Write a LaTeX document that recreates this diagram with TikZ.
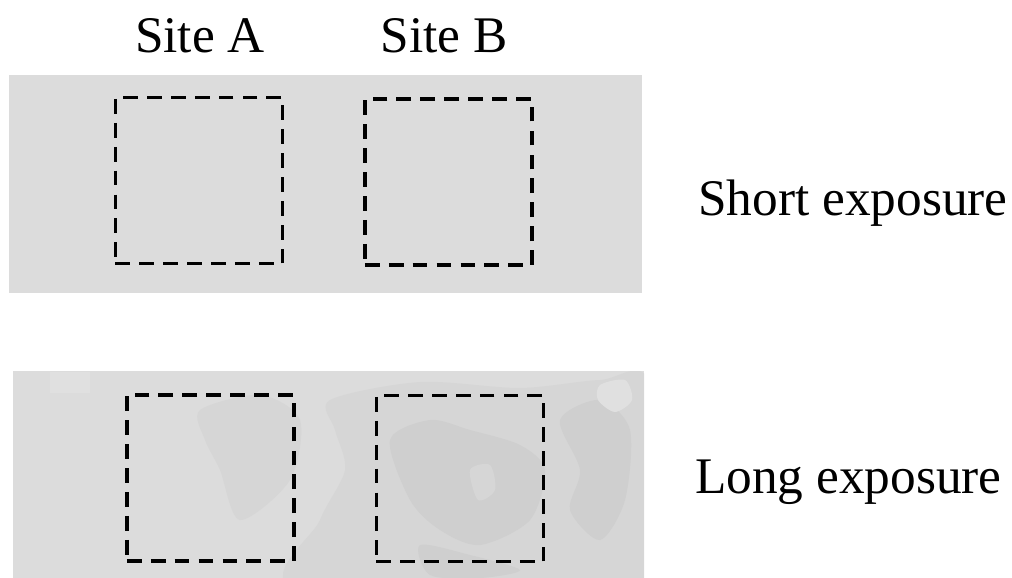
\documentclass[tikz,border=0pt]{standalone}
\usepackage{fontspec}
\setmainfont{Liberation Serif}
\definecolor{panelgray}{RGB}{220,220,220}
\definecolor{stainlight}{RGB}{214,214,214}
\definecolor{staindark}{RGB}{207,207,207}
\definecolor{stainpale}{RGB}{224,224,224}

\begin{document}
\begin{tikzpicture}[x=0.025cm, y=-0.025cm,
    site/.style={draw=black, line width=2.6pt, dash pattern=on 10.5pt off 6.5pt, rectangle, inner sep=0pt,
        minimum width=4.18cm, minimum height=4.15cm},
    caption/.style={font=\fontsize{36.5}{40}\selectfont, inner sep=0pt}]
\useasboundingbox (0,0) rectangle (1012,578);

% short exposure panel
\fill[panelgray] (9,75) rectangle (642,293);
% long exposure panel, with its stains
\fill[panelgray] (13,371) rectangle (644,578);
\begin{scope}
\clip (13,371) rectangle (644,578);
\fill[stainpale] (50,372) rectangle (90,393);
\fill[stainlight] plot[smooth cycle] coordinates {(200,410) (260,395) (300,420) (290,480) (240,520) (220,470) (205,440)};
\fill[stainlight] plot[smooth cycle] coordinates {(330,400) (420,382) (520,388) (600,380) (650,385) (650,590) (300,590) (320,520) (345,470) (335,430)};
\fill[staindark] plot[smooth cycle] coordinates {(390,440) (430,420) (470,430) (520,445) (545,470) (530,520) (480,545) (440,530) (410,500)};
\fill[staindark] plot[smooth cycle] coordinates {(560,420) (600,400) (630,430) (625,500) (600,540) (570,510) (580,470)};
\fill[staindark] plot[smooth cycle] coordinates {(420,545) (470,555) (520,570) (480,578) (430,575)};
\fill[stainpale] plot[smooth cycle] coordinates {(600,385) (625,380) (632,400) (615,412) (598,400)};
\fill[stainlight] plot[smooth cycle] coordinates {(470,470) (490,465) (495,490) (478,500)};
\end{scope}

% sites, short exposure
\node[site] (sA) at (199,180.5) {};
\node[site] (sB) at (448.5,182) {};
% sites, long exposure
\node[site] (lA) at (210.5,478) {};
\node[site] (lB) at (460,478.5) {};

% labels
\node[caption, anchor=base] (labA) at (200,53) {Site A};
\node[caption, anchor=base] (labB) at (444,53) {Site B};
\node[caption, anchor=base west] (short) at (698,215) {Short exposure};
\node[caption, anchor=base west] (long) at (695,493) {Long exposure};
\end{tikzpicture}
\end{document}
